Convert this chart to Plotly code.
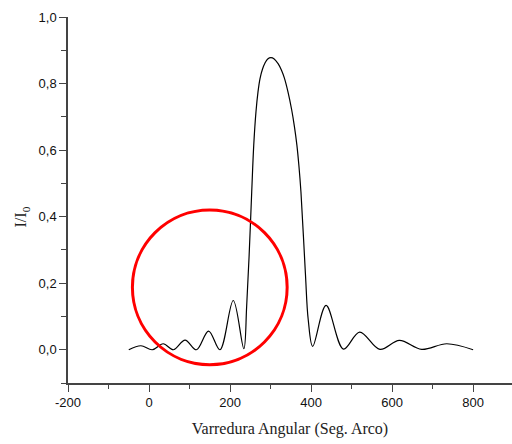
import plotly.graph_objects as go

# Data
angle = [-50, -20, 8, 35, 60, 89, 117, 147, 175, 208, 234, 241, 247, 253.5, 258.5, 264, 269, 274, 280, 286,
         293, 301, 309, 319, 327, 334, 343, 352, 359, 365, 370, 375, 386, 393, 404, 437, 480, 520, 570, 618,
         673, 735, 800]
intensity = [0.0, 0.012, 0.0, 0.018, 0.0, 0.029, 0.0, 0.056, 0.0, 0.148, 0.003, 0.13, 0.28, 0.475, 0.615,
             0.715, 0.775, 0.815, 0.843, 0.861, 0.874, 0.878, 0.874, 0.859, 0.84, 0.817, 0.775, 0.722,
             0.67, 0.615, 0.553, 0.475, 0.23, 0.09, 0.01, 0.133, 0.002, 0.053, 0.001, 0.028, 0.001,
             0.018, 0.0]

x_tick_vals = [-200, 0, 200, 400, 600, 800]
x_tick_labels = ["-200", "0", "200", "400", "600", "800"]
y_tick_vals = [0.0, 0.2, 0.4, 0.6, 0.8, 1.0]
y_tick_labels = ["0,0", "0,2", "0,4", "0,6", "0,8", "1,0"]

fig = go.Figure()
fig.add_trace(go.Scatter(x=angle, y=intensity, mode="lines",
                         line=dict(color="black", width=1.2, shape="spline", smoothing=1.0),
                         showlegend=False, hoverinfo="skip"))

axis_font = dict(family="Liberation Sans, Arial, sans-serif", size=13, color="#111")

fig.update_layout(
    width=512, height=444,
    margin=dict(l=68, r=0, t=17, b=61),
    paper_bgcolor="white", plot_bgcolor="white",
    showlegend=False,
    xaxis=dict(range=[-200, 896], showgrid=False, zeroline=False,
               showline=True, linecolor="#444", linewidth=1.5,
               tickmode="array", tickvals=x_tick_vals, ticktext=x_tick_labels,
               ticks="outside", ticklen=7, tickwidth=1, tickcolor="#444",
               minor=dict(ticks="outside", ticklen=4, tickwidth=1, tickcolor="#444", dtick=100, tick0=0),
               tickfont=axis_font,
               title=dict(text="Varredura Angular (Seg. Arco)",
                          font=dict(family="Liberation Serif, Times New Roman, serif", size=16, color="#222"),
                          standoff=13)),
    yaxis=dict(range=[-0.1, 1.0], showgrid=False, zeroline=False,
               showline=True, linecolor="#444", linewidth=1.5,
               tickmode="array", tickvals=y_tick_vals, ticktext=y_tick_labels,
               ticks="outside", ticklen=7, tickwidth=1, tickcolor="#444",
               minor=dict(ticks="outside", ticklen=5, tickwidth=1, tickcolor="#444", dtick=0.1, tick0=0),
               tickfont=axis_font),
    annotations=[dict(text="I/I<sub>0</sub>", xref="paper", yref="y", x=-0.104, y=0.4,
                      textangle=-90, showarrow=False, xanchor="center", yanchor="middle",
                      font=dict(family="Liberation Serif, Times New Roman, serif", size=16, color="#222"))],
    shapes=[dict(type="circle", xref="x", yref="y", x0=-41, x1=341, y0=-0.045, y1=0.42,
                 line=dict(color="red", width=3))],
)

fig.write_html("out.html")
